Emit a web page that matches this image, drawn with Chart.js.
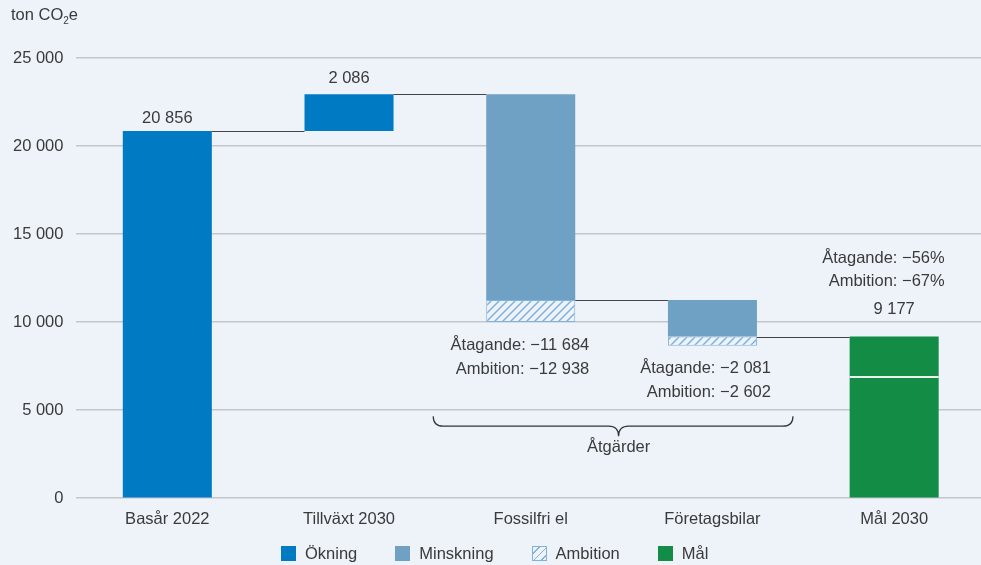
<!DOCTYPE html>
<html lang="sv">
<head>
<meta charset="utf-8">
<script src="https://cdn.jsdelivr.net/npm/chart.js@4"></script>
<style>
  html, body { margin: 0; padding: 0; background: #eef3fa; overflow: hidden; }
  #wrap { position: relative; width: 985px; height: 565px; }
  #legend {
    position: absolute; left: 281px; top: 544px;
    display: flex; gap: 38px; align-items: center;
    font: 16.5px "Liberation Sans", Arial, sans-serif; color: #3a3a3a;
  }
  #legend .item { display: flex; align-items: center; gap: 9px; }
  #legend .box { width: 15px; height: 15px; box-sizing: border-box; }
</style>
</head>
<body>
<div id="wrap">
  <canvas id="chart" width="985" height="565"></canvas>
  <div id="legend"></div>
</div>
<script>
// categories and values (ton CO2e)
const categories = ['Basår 2022', 'Tillväxt 2030', 'Fossilfri el', 'Företagsbilar', 'Mål 2030'];
const baseYear = 20856;
const growth = 2086;
const commitments = [-11684, -2081];      // Fossilfri el, Företagsbilar
const ambitions = [-12938, -2602];
const goalCommitPct = -56;
const goalAmbitionPct = -67;
const yTicks = [0, 5000, 10000, 15000, 20000, 25000];

const colors = {
  increase: '#007bc3',
  decrease: '#6fa1c5',
  hatch: '#80b2da',
  goal: '#138c45',
  text: '#3a3a3a'
};
const FONT = '"Liberation Sans", Arial, sans-serif';

const fmt = n => {
  const s = Math.abs(Math.round(n)).toString().replace(/\B(?=(\d{3})+(?!\d))/g, ' ');
  return (n < 0 ? '\u2212' : '') + s;
};

// running totals for the waterfall
const afterGrowth = baseYear + growth;
const afterEl = afterGrowth + commitments[0];
const elAmb = afterGrowth + ambitions[0];
const afterCars = afterEl + commitments[1];
const carsAmb = afterEl + ambitions[1];
const goal = afterCars;
const goalAmbition = Math.round(baseYear * (1 + goalAmbitionPct / 100));

function hatchPattern() {
  const c = document.createElement('canvas');
  c.width = 8; c.height = 8;
  const g = c.getContext('2d');
  g.fillStyle = '#eef3fa';
  g.fillRect(0, 0, 8, 8);
  g.strokeStyle = colors.hatch;
  g.lineWidth = 1.5;
  g.beginPath();
  g.moveTo(0, 8); g.lineTo(8, 0);
  g.moveTo(-2, 2); g.lineTo(2, -2);
  g.moveTo(6, 10); g.lineTo(10, 6);
  g.stroke();
  return g.createPattern(c, 'repeat');
}

const datasets = [
  {
    label: 'Ökning',
    data: [[0, baseYear], [baseYear, afterGrowth], null, null, null],
    backgroundColor: colors.increase
  },
  {
    label: 'Minskning',
    data: [null, null, [afterEl, afterGrowth], [afterCars, afterEl], null],
    backgroundColor: colors.decrease
  },
  {
    label: 'Ambition',
    data: [null, null, [elAmb, afterEl], [carsAmb, afterCars], null],
    backgroundColor: hatchPattern(),
    borderColor: colors.hatch,
    borderWidth: 1,
    borderSkipped: false
  },
  {
    label: 'Mål',
    data: [null, null, null, null, [0, goal]],
    backgroundColor: colors.goal
  }
];

const extras = {
  id: 'extras',
  afterDatasetsDraw(chart) {
    const { ctx, scales: { y } } = chart;
    const bar = (d, i) => chart.getDatasetMeta(d).data[i];
    const left = b => b.x - b.width / 2;
    const right = b => b.x + b.width / 2;
    ctx.save();

    // connector lines between bars
    const links = [
      [bar(0, 0), bar(0, 1), baseYear],
      [bar(0, 1), bar(1, 2), afterGrowth],
      [bar(1, 2), bar(1, 3), afterEl],
      [bar(1, 3), bar(3, 4), afterCars]
    ];
    ctx.strokeStyle = '#444';
    ctx.lineWidth = 1;
    links.forEach(([a, b, v]) => {
      const py = Math.round(y.getPixelForValue(v)) + 0.5;
      ctx.beginPath();
      ctx.moveTo(right(a), py);
      ctx.lineTo(left(b), py);
      ctx.stroke();
    });

    // ambition marker inside the goal bar
    const g = bar(3, 4);
    const gy = y.getPixelForValue(goalAmbition);
    ctx.strokeStyle = 'rgba(255,255,255,0.9)';
    ctx.lineWidth = 2;
    ctx.beginPath();
    ctx.moveTo(left(g), gy);
    ctx.lineTo(right(g), gy);
    ctx.stroke();

    ctx.fillStyle = colors.text;
    ctx.font = '16.5px ' + FONT;
    ctx.textBaseline = 'middle';

    // values above bars
    ctx.textAlign = 'center';
    ctx.fillText(fmt(baseYear), bar(0, 0).x, y.getPixelForValue(baseYear) - 13);
    ctx.fillText(fmt(growth), bar(0, 1).x, y.getPixelForValue(afterGrowth) - 16);
    ctx.fillText(fmt(goal), g.x, y.getPixelForValue(goal) - 27);

    // commitment / ambition notes
    ctx.textAlign = 'right';
    [2, 3].forEach((i, k) => {
      const b = bar(2, i);
      const base = y.getPixelForValue(k === 0 ? elAmb : carsAmb);
      ctx.fillText('Åtagande: ' + fmt(commitments[k]), right(b) + 14, base + 23);
      ctx.fillText('Ambition: ' + fmt(ambitions[k]), right(b) + 14, base + 47);
    });
    const gt = y.getPixelForValue(goal);
    ctx.fillText('Åtagande: ' + fmt(goalCommitPct) + '%', right(g) + 6, gt - 78);
    ctx.fillText('Ambition: ' + fmt(goalAmbitionPct) + '%', right(g) + 6, gt - 55);

    // brace under the measures
    const bx0 = left(bar(1, 2)) - 53;
    const bx1 = right(bar(1, 3)) + 36;
    const mid = (chart.scales.x.getPixelForValue(2) + chart.scales.x.getPixelForValue(3)) / 2 - 3;
    const by = chart.chartArea.bottom - 72;
    const r = 10;
    ctx.strokeStyle = '#333';
    ctx.lineWidth = 1.2;
    ctx.beginPath();
    ctx.moveTo(bx0, by - r);
    ctx.quadraticCurveTo(bx0, by, bx0 + r, by);
    ctx.lineTo(mid - r, by);
    ctx.quadraticCurveTo(mid, by, mid, by + r);
    ctx.quadraticCurveTo(mid, by, mid + r, by);
    ctx.lineTo(bx1 - r, by);
    ctx.quadraticCurveTo(bx1, by, bx1, by - r);
    ctx.stroke();
    ctx.textAlign = 'center';
    ctx.fillText('Åtgärder', mid, by + 21);

    // unit label
    ctx.textAlign = 'left';
    ctx.font = '16.5px ' + FONT;
    let tx = 11;
    ctx.fillText('ton CO', tx, 15);
    tx += ctx.measureText('ton CO').width;
    ctx.font = '10px ' + FONT;
    ctx.fillText('2', tx, 21);
    tx += ctx.measureText('2').width;
    ctx.font = '16.5px ' + FONT;
    ctx.fillText('e', tx, 15);
    ctx.restore();
  }
};

new Chart(document.getElementById('chart'), {
  type: 'bar',
  data: { labels: categories, datasets },
  options: {
    responsive: false,
    animation: false,
    layout: { padding: { top: 58, left: 0, right: 0, bottom: 33 } },
    datasets: {
      bar: { grouped: false, barPercentage: 0.49, categoryPercentage: 1 }
    },
    plugins: { legend: { display: false }, tooltip: { enabled: false } },
    scales: {
      x: {
        grid: { display: false },
        border: { display: false },
        ticks: { color: colors.text, font: { family: FONT, size: 16.5 }, padding: 3 }
      },
      y: {
        min: 0,
        max: 25000,
        afterBuildTicks: axis => { axis.ticks = yTicks.map(v => ({ value: v })); },
        grid: { color: '#c3c6ca', lineWidth: 1.5, drawTicks: false },
        border: { display: false },
        ticks: {
          color: colors.text,
          font: { family: FONT, size: 16.5 },
          padding: 13,
          callback: v => fmt(v)
        }
      }
    }
  },
  plugins: [extras]
});

// legend
const legendItems = [
  { label: 'Ökning', style: 'background:' + colors.increase },
  { label: 'Minskning', style: 'background:' + colors.decrease },
  { label: 'Ambition', style: 'border:1px solid ' + colors.hatch +
      ';background:repeating-linear-gradient(135deg,#eef3fa 0 4px,' + colors.hatch + ' 4px 5.3px)' },
  { label: 'Mål', style: 'background:' + colors.goal }
];
document.getElementById('legend').innerHTML = legendItems.map(it =>
  '<div class="item"><span class="box" style="' + it.style + '"></span><span>' + it.label + '</span></div>'
).join('');
</script>
</body>
</html>
